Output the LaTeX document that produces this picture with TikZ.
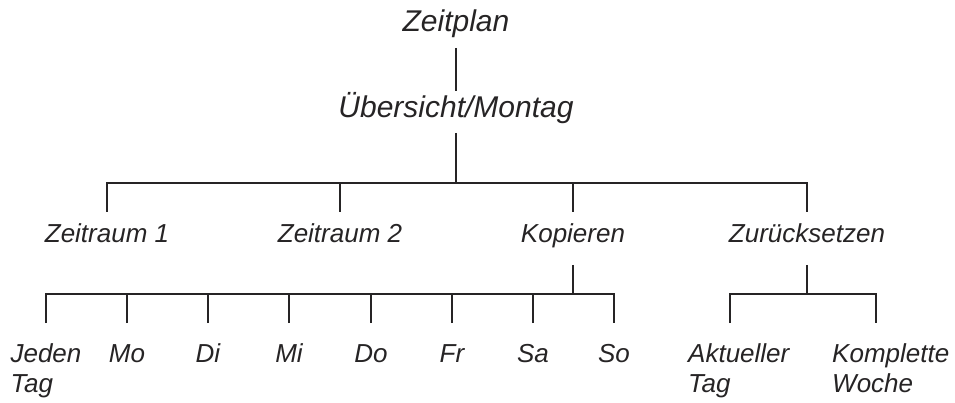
\documentclass[tikz,border=0pt]{standalone}
\usepackage{fontspec}
\setmainfont{Liberation Sans}
\definecolor{ink}{RGB}{38,36,37}
\begin{document}
\begin{tikzpicture}[x=1pt,y=-1pt,
  lbl/.style={inner sep=0pt, anchor=base, text=ink, font=\itshape\fontsize{26}{30}\selectfont},
  big/.style={lbl, font=\itshape\fontsize{30}{34}\selectfont},
  multi/.style={lbl, align=left, anchor=base west},
  conn/.style={draw=ink, line width=2.8pt}]
\useasboundingbox (0,0) rectangle (955,403);
% nodes (multi-line nodes are placed by the baseline of their last line)
\node[big] (n0) at (456,32) {Zeitplan};
\node[big] (n1) at (456,118) {Übersicht/Montag};
\node[lbl] (z1) at (107,243) {Zeitraum 1};
\node[lbl] (z2) at (340,243) {Zeitraum 2};
\node[lbl] (kop) at (573,243) {Kopieren};
\node[lbl] (zur) at (807,243) {Zurücksetzen};
\node[lbl, align=left] (jt) at (46,392) {Jeden\\Tag};
\node[lbl] (mo) at (127,362) {Mo};
\node[lbl] (di) at (208,362) {Di};
\node[lbl] (mi) at (289,362) {Mi};
\node[lbl] (do) at (371,362) {Do};
\node[lbl] (fr) at (452,362) {Fr};
\node[lbl] (sa) at (533,362) {Sa};
\node[lbl] (so) at (614,362) {So};
\node[multi] (akt) at (688,392) {Aktueller\\Tag};
\node[multi] (kom) at (832,392) {Komplette\\Woche};
% bar coordinates
\coordinate (b1) at (456,183);
\coordinate (b2) at (573,294);
\coordinate (b3) at (807,294);
% connectors
\draw[conn] ([yshift=-16pt]n0.base) -- ([yshift=27pt]n1.base);
\draw[conn] ([yshift=-15pt]n1.base) -- (b1);
\draw[conn] ([yshift=31pt]z1.base) -- (z1.base |- b1) -- (zur.base |- b1) -- ([yshift=31pt]zur.base);
\draw[conn] ([yshift=31pt]z2.base) -- (z2.base |- b1);
\draw[conn] ([yshift=31pt]kop.base) -- (kop.base |- b1);
% Kopieren subtree
\draw[conn] ([yshift=-22pt]kop.base) -- (b2);
\draw[conn] ([yshift=69pt]jt.base) -- (jt.base |- b2) -- (so.base |- b2) -- ([yshift=39pt]so.base);
\foreach \d in {mo,di,mi,do,fr,sa}
  \draw[conn] ([yshift=39pt]\d.base) -- (\d.base |- b2);
% Zuruecksetzen subtree
\draw[conn] ([yshift=-22pt]zur.base) -- (b3);
\draw[conn] ([shift={(42pt,69pt)}]akt.base west) -- ([xshift=42pt]akt.base west |- b3)
  -- ([xshift=44pt]kom.base west |- b3) -- ([shift={(44pt,69pt)}]kom.base west);
\end{tikzpicture}
\end{document}
